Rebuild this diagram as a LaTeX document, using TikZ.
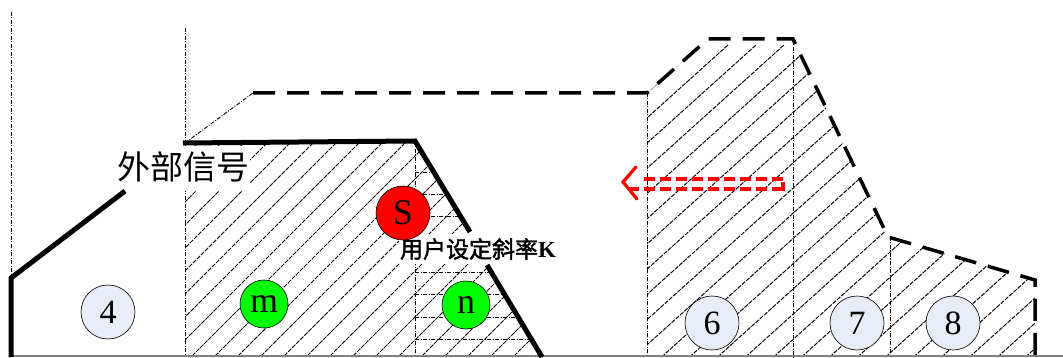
\documentclass[tikz,border=0pt]{standalone}
\usepackage{fontspec}
\setmainfont{Liberation Serif}
\newfontfamily\cjk{Noto Sans CJK SC}
\newfontfamily\cjkb[FakeBold=2]{Noto Sans CJK SC}
\begin{document}
\begin{tikzpicture}[x=1pt,y=-1pt,
  dashdot/.style={line width=0.9pt,dash pattern=on 4pt off 1.5pt on 1pt off 1.5pt},
  hatchline/.style={line width=0.95pt,dash pattern=on 4.5pt off 1.2pt},
  thickline/.style={line width=5pt},
  thickdash/.style={line width=3.5pt,dash pattern=on 22pt off 12pt},
  numcirc/.style={circle,draw=black,line width=0.6pt,fill=numfill,minimum size=54pt,inner sep=0pt,font=\fontsize{34}{34}\selectfont},
  letcirc/.style={circle,draw=black,line width=0.6pt,inner sep=0pt,font=\fontsize{36}{36}\selectfont}
]
\definecolor{numfill}{RGB}{232,236,246}
\definecolor{brightgreen}{RGB}{0,255,0}
\useasboundingbox (0,0) rectangle (1063,358);

% key points
\coordinate (A1) at (185,143);
\coordinate (A2) at (415,141);
\coordinate (A3) at (542,357);
\coordinate (A4) at (185,357);
\coordinate (B1) at (647,93);
\coordinate (B2) at (708,39);
\coordinate (B3) at (793,39);
\coordinate (B4) at (888,237);
\coordinate (B5) at (1035,280);
\coordinate (B6) at (1035,357);
\coordinate (B7) at (647,357);

% left hatch
\begin{scope}
  \clip (A1) -- (A2) -- (A3) -- (A4) -- cycle;
  \foreach \c in {-200,-177,...,600} {
    \draw[hatchline] (\c,380) -- ++(420,-420);
  }
\end{scope}
% horizontal dash-dot lines in the triangle
\begin{scope}
  \clip (A2) -- (A3) -- (415,357) -- cycle;
  \foreach \yy in {172,194,216,272,294,317,339} {
    \draw[dashdot] (415,\yy) -- (560,\yy);
  }
\end{scope}
% right hatch
\begin{scope}
  \clip (B1) -- (B2) -- (B3) -- (B4) -- (B5) -- (B6) -- (B7) -- cycle;
  \foreach \c in {300,328,...,1400} {
    \draw[hatchline] (\c,380) -- ++(372,-335);
  }
\end{scope}

% thin vertical guides
\coordinate (V1t) at (11,12);   \coordinate (V1b) at (11,278);
\coordinate (V2t) at (185,28);  \coordinate (V2b) at (185,357);
\coordinate (V3b) at (415,357);
\coordinate (V4b) at (647,357);
\coordinate (V5b) at (793,357);
\coordinate (V6t) at (890,237); \coordinate (V6b) at (890,357);
\coordinate (C1) at (253,93);
\draw[dashdot] (V1t) -- (V1b);
\draw[dashdot] (V2t) -- (V2b);
\draw[dashdot] (A2) -- (V3b);
\draw[dashdot] (B1) -- (V4b);
\draw[dashdot] (B3) -- (V5b);
\draw[dashdot] (V6t) -- (V6b);
\draw[dashdot] (A1) -- (C1);

% baseline
\draw[gray,line width=1.5pt] (11,356) -- (1063,356);

% white background of the label
\fill[white] (117,146) rectangle (250,191);

% thick solid outline
\coordinate (L0) at (11,357);
\coordinate (L1) at (11,278);
\coordinate (L2) at (125,191);
\draw[thickline] (L0) -- (L1) -- (L2);
\coordinate (S1) at (183,143);
\coordinate (S2) at (470,232);
\coordinate (S3) at (487,265);
\draw[thickline,line join=miter] (S1) -- (A2) -- (S2);
\draw[thickline] (S3) -- (A3);

% thick dashed outline
\draw[thickdash] (C1) -- (B1) -- (B2) -- (B3) -- (B4) -- (B5) -- (B6);

% red hollow arrow
\begin{scope}[red,line width=3.2pt,dash pattern=on 11pt off 5pt]
  \coordinate (R1) at (783,179);
  \coordinate (R2) at (783,189);
  \coordinate (R3) at (640,179);
  \coordinate (R4) at (626,189);
  \coordinate (RT) at (623,182);
  \coordinate (RU) at (636,167);
  \coordinate (RD) at (637,199);
  \draw (R1) -- (R3);
  \draw (R2) -- (R4);
  \draw[solid] (779,189) -- (R2) -- (783,182);
  \draw[solid,line cap=round] (RU) -- (RT) -- (RD);
\end{scope}

% labels
\node[font=\cjk\fontsize{33}{33}\selectfont,inner sep=0pt] (ext) at (183,167) {外部信号};
\node[fill=white,inner xsep=1pt,inner ysep=4pt,font=\fontsize{23}{23}\selectfont] (slope) at (478,249) {{\cjkb 用户设定斜率}\textbf{K}};

% circles
\node[numcirc] (c4) at (108,312) {4};
\node[letcirc,fill=brightgreen,minimum size=48pt] (cm) at (264,304) {m};
\node[letcirc,fill=red,minimum size=54pt] (cs) at (403,213) {S};
\node[letcirc,fill=brightgreen,minimum size=48pt] (cn) at (466,305) {n};
\node[numcirc] (c6) at (712,323) {6};
\node[numcirc] (c7) at (857,323) {7};
\node[numcirc] (c8) at (953,323) {8};
\end{tikzpicture}
\end{document}
